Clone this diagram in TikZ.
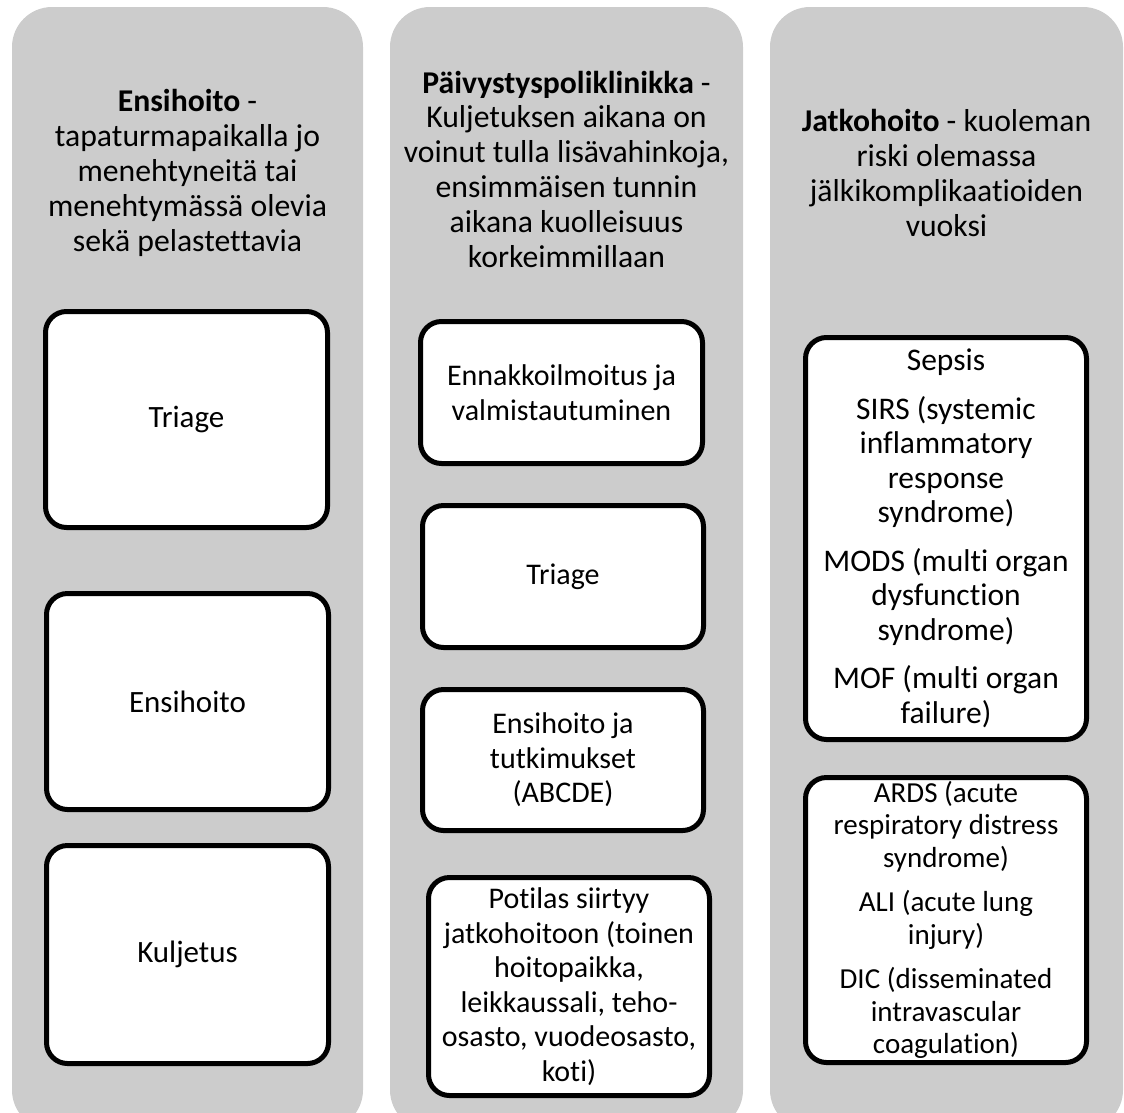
\documentclass[tikz,border=0pt]{standalone}
\usepackage{fontspec}
\setmainfont{Carlito}[Ligatures={NoCommon}]
\definecolor{colfill}{HTML}{CCCCCC}
\begin{document}
\begin{tikzpicture}[x=1pt,y=-1pt,
  column/.style={fill=colfill, draw=none, rounded corners=40pt, inner sep=0pt},
  header/.style={align=center, inner sep=0pt, text=black,
    font=\fontsize{31.7pt}{34.8pt}\selectfont},
  stage/.style={draw=black, fill=white, line width=5pt, rounded corners=21pt,
    align=center, inner sep=0pt},
  fsA/.style={font=\fontsize{31pt}{36pt}\selectfont},
  fsB/.style={font=\fontsize{30pt}{34.5pt}\selectfont},
  fsC/.style={font=\fontsize{31.5pt}{34.5pt}\selectfont},
  fsD/.style={font=\fontsize{29pt}{32.5pt}\selectfont}]
\useasboundingbox (0,0) rectangle (1124,1112);
\begin{scope}
\clip (0,0) rectangle (1124,1112);
\node[column, minimum width=351pt, minimum height=1123pt] (col1) at (187.5,568.5) {};
\node[column, minimum width=353pt, minimum height=1123pt] (col2) at (566.5,568.5) {};
\node[column, minimum width=353pt, minimum height=1123pt] (col3) at (946.5,568.5) {};
\end{scope}

% headers
\node[header] (h1) at (187.5,173) {\textbf{Ensihoito} -\\tapaturmapaikalla jo\\menehtyneitä tai\\menehtymässä olevia\\sekä pelastettavia};
\node[header] (h2) at (566.5,169) {\textbf{Päivystyspoliklinikka} -\\Kuljetuksen aikana on\\voinut tulla lisävahinkoja,\\ensimmäisen tunnin\\aikana kuolleisuus\\korkeimmillaan};
\node[header] (h3) at (946.5,173) {\textbf{Jatkohoito} - kuoleman\\riski olemassa\\jälkikomplikaatioiden\\vuoksi};

% column 1
\node[stage, fsA, minimum width=282pt, minimum height=216pt] (c1a) at (186.5,419.5) {Triage};
\node[stage, fsA, minimum width=282pt, minimum height=216pt] (c1b) at (187.5,701.5) {Ensihoito};
\node[stage, fsA, minimum width=282pt, minimum height=218pt] (c1c) at (187.5,954.5) {Kuljetus};

% column 2
\node[stage, fsB, minimum width=282pt, minimum height=142pt] (c2a) at (561.5,392.5) {Ennakkoilmoitus ja\\valmistautuminen};
\node[stage, fsB, minimum width=281pt, minimum height=142pt] (c2b) at (563,576.5) {Triage};
\node[stage, fsB, minimum width=281pt, minimum height=141pt] (c2c) at (563,760) {Ensihoito ja\\tutkimukset\\(ABCDE)};
\node[stage, fsB, minimum width=281pt, minimum height=218pt] (c2d) at (569,986.5) {Potilas siirtyy\\jatkohoitoon (toinen\\hoitopaikka,\\leikkaussali, teho-\\osasto, vuodeosasto,\\koti)};

% column 3
\node[stage, fsC, minimum width=281pt, minimum height=402pt] (c3a) at (946,538.5) {Sepsis\\[14pt]SIRS (systemic\\inflammatory\\response\\syndrome)\\[14pt]MODS (multi organ\\dysfunction\\syndrome)\\[14pt]MOF (multi organ\\failure)};
\node[stage, fsD, minimum width=281pt, minimum height=285pt] (c3b) at (946,920) {ARDS (acute\\respiratory distress\\syndrome)\\[12pt]ALI (acute lung\\injury)\\[12pt]DIC (disseminated\\intravascular\\coagulation)};
\end{tikzpicture}
\end{document}
